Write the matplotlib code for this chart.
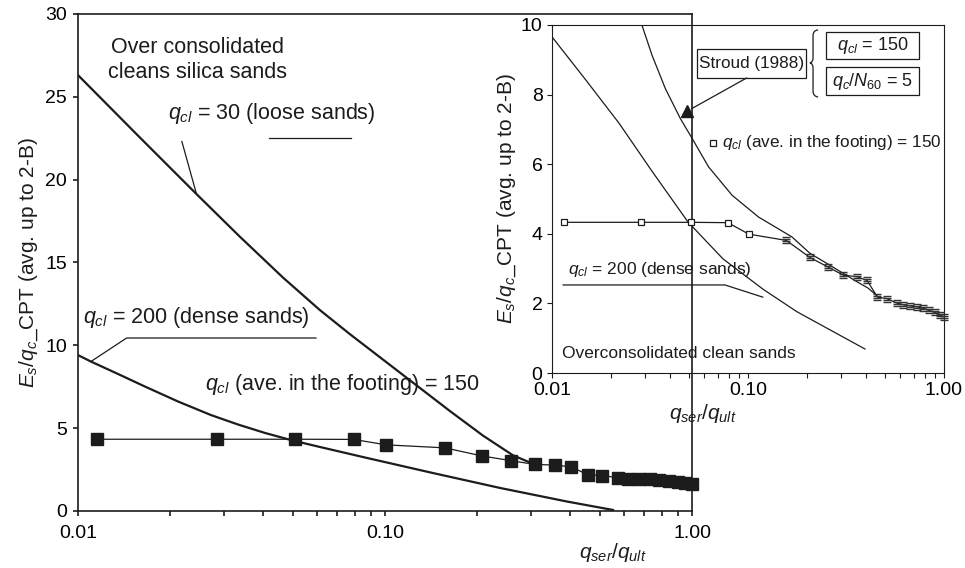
import matplotlib
matplotlib.use("Agg")
import matplotlib.pyplot as plt
from matplotlib.ticker import LogLocator, NullFormatter, FixedLocator
from matplotlib.path import Path
from matplotlib.patches import PathPatch, Rectangle

plt.rcParams['font.family'] = ['Liberation Sans', 'DejaVu Sans']
plt.rcParams['mathtext.fontset'] = 'custom'
plt.rcParams['mathtext.rm'] = 'Liberation Sans'
plt.rcParams['mathtext.it'] = 'Liberation Sans:italic'
plt.rcParams['mathtext.bf'] = 'Liberation Sans:bold'
plt.rcParams['lines.solid_joinstyle'] = 'round'

INK = '#1c1c1c'

# footing test, q_cl (ave. in the footing) = 150
q_ratio = [0.0115, 0.0283, 0.051, 0.079, 0.101, 0.157, 0.207, 0.257, 0.307, 0.358, 0.405,
           0.458, 0.51, 0.575, 0.62, 0.67, 0.73, 0.78, 0.84, 0.90, 0.95, 1.0]
es_qc = [4.33, 4.33, 4.33, 4.32, 3.99, 3.81, 3.32, 3.04, 2.81, 2.77, 2.66,
         2.18, 2.14, 2.01, 1.96, 1.93, 1.90, 1.86, 1.80, 1.74, 1.66, 1.62]

# over consolidated clean silica sands, q_cl = 30 (loose)
loose_x = [0.01, 0.01568, 0.02423, 0.0337, 0.04653, 0.06143, 0.07691, 0.1119,
           0.1628, 0.2085, 0.2611, 0.3034]
loose_y = [26.31, 22.66, 19.16, 16.55, 14.09, 12.12, 10.67, 8.35,
           6.03, 4.55, 3.36, 2.85]

# q_cl = 200 (dense)
dense_x = [0.01, 0.01102, 0.0135, 0.01653, 0.02117, 0.02711, 0.0332, 0.04065,
           0.04941, 0.06049, 0.08737, 0.1433, 0.2369, 0.3915, 0.553]
dense_y = [9.41, 9.02, 8.27, 7.51, 6.61, 5.79, 5.22, 4.71,
           4.28, 3.89, 3.20, 2.29, 1.39, 0.57, 0.06]

# inset: overconsolidated clean sands, q_cl = 200
oc_x = [0.01, 0.01474, 0.02197, 0.03237, 0.04942, 0.07455, 0.1192, 0.1778, 0.2621, 0.3953]
oc_y = [9.66, 8.45, 7.18, 5.80, 4.34, 3.28, 2.41, 1.76, 1.24, 0.69]

# inset: Stroud (1988), q_cl = 150, q_c/N60 = 5
stroud_x = [0.0288, 0.0324, 0.0379, 0.0452, 0.0514, 0.0630, 0.0829, 0.1133, 0.1677,
            0.207, 0.256, 0.309, 0.358, 0.410, 0.455]
stroud_y = [9.99, 9.13, 8.17, 7.31, 6.78, 5.92, 5.11, 4.48, 3.91,
            3.44, 3.13, 2.85, 2.63, 2.44, 2.22]
stroud_pt_x = [0.0488]
stroud_pt_y = [7.52]

x_ticks = [0.01, 0.1, 1.0]
x_ticklabels = ['0.01', '0.10', '1.00']

fig = plt.figure(figsize=(9.65, 5.68), dpi=100)
ax = fig.add_axes([0.0808, 0.1004, 0.6363, 0.875])
axin = fig.add_axes([0.572, 0.3433, 0.4062, 0.6127], facecolor='none')


def style_axes(a, lw, xpad, ypad):
    a.set_xscale('log')
    a.set_xlim(0.01, 1.0)
    a.xaxis.set_major_locator(FixedLocator(x_ticks))
    a.set_xticklabels(x_ticklabels)
    a.xaxis.set_minor_locator(LogLocator(base=10, subs=range(2, 10)))
    a.xaxis.set_minor_formatter(NullFormatter())
    for s in a.spines.values():
        s.set_linewidth(lw)
        s.set_color(INK)
    a.tick_params(axis='x', which='both', direction='out', length=3.8, width=lw,
                  color=INK, labelsize=14, pad=xpad, top=False)
    a.tick_params(axis='y', which='both', direction='out', length=3.8, width=lw,
                  color=INK, labelsize=14, pad=ypad, right=False)


# ---- main plot ----
style_axes(ax, 1.2, 6, 4)
ax.set_ylim(0, 30)
ax.set_yticks(range(0, 31, 5))

ax.plot(loose_x, loose_y, color=INK, lw=1.6)
ax.plot(dense_x, dense_y, color=INK, lw=1.6)
ax.plot(q_ratio, es_qc, color=INK, lw=0.9, marker='s', ms=8.5,
        mfc=INK, mec=INK, clip_on=False, zorder=4)

ax.text(0.0246, 27.2, 'Over consolidated\ncleans silica sands', fontsize=15.5,
        ha='center', va='center', linespacing=1.25, color=INK)
ax.text(0.0197, 24.0, r'$q_{cl}$ = 30 (loose sands)', fontsize=15.5, va='center', color=INK)
ax.plot([0.0218, 0.0243], [22.3, 19.16], color=INK, lw=0.9)
ax.plot([0.0419, 0.0775], [22.5, 22.5], color=INK, lw=0.9)
ax.text(0.0104, 11.7, r'$q_{cl}$ = 200 (dense sands)', fontsize=15.5, va='center', color=INK)
ax.plot([0.01102, 0.0144, 0.0596], [9.02, 10.44, 10.44], color=INK, lw=0.9)
ax.text(0.0259, 7.66, r'$q_{cl}$ (ave. in the footing) = 150', fontsize=15.5,
        va='center', color=INK)

ax.set_ylabel(r'$E_s/q_c$_CPT (avg. up to 2-B)', fontsize=15, color=INK, labelpad=4)
ax.text(0.553, -0.083, r'$q_{ser}/q_{ult}$', transform=ax.get_xaxis_transform(),
        fontsize=15, ha='center', va='center', color=INK)

# ---- inset ----
style_axes(axin, 0.8, 2.5, 3)
axin.set_ylim(0, 10)
axin.set_yticks(range(0, 11, 2))

axin.plot(oc_x, oc_y, color=INK, lw=0.9)
axin.plot(stroud_x, stroud_y, color=INK, lw=0.9)
axin.plot(q_ratio, es_qc, color=INK, lw=0.9, zorder=3)
axin.plot(q_ratio[:5], es_qc[:5], ls='none', marker='s', ms=5, mfc='white',
          mec=INK, mew=0.9, zorder=4)

# stacked-line marker for the dense end of the record
bars = Path([(-1, -0.75), (1, -0.75), (-1, -0.25), (1, -0.25),
             (-1, 0.25), (1, 0.25), (-1, 0.75), (1, 0.75)],
            [Path.MOVETO, Path.LINETO] * 4)
axin.plot(q_ratio[5:], es_qc[5:], ls='none', marker=bars, ms=6, mfc='none',
          mec='#333333', mew=1.0, zorder=4, clip_on=False)
axin.plot(stroud_pt_x, stroud_pt_y, ls='none', marker='^', ms=9, color=INK, zorder=5)

axin.text(0.0121, 2.96, r'$q_{cl}$ = 200 (dense sands)', fontsize=12.5, va='center', color=INK)
axin.plot([0.0114, 0.0763, 0.119], [2.53, 2.53, 2.18], color=INK, lw=0.9)
axin.text(0.0112, 0.57, 'Overconsolidated clean sands', fontsize=12.5, va='center', color=INK)
axin.plot([0.0663], [6.61], ls='none', marker='s', ms=5, mfc='white', mec=INK, mew=0.9)
axin.text(0.0736, 6.61, r'$q_{cl}$ (ave. in the footing) = 150', fontsize=12.3,
          va='center', color=INK)

tA = axin.transAxes
axin.add_patch(Rectangle((0.370, 0.848), 0.278, 0.083, transform=tA, fill=False,
                         ec=INK, lw=0.9))
axin.text(0.509, 0.889, 'Stroud (1988)', transform=tA, fontsize=12.3,
          ha='center', va='center', color=INK)
axin.annotate('', xy=(stroud_pt_x[0], stroud_pt_y[0]), xytext=(0.497, 0.848),
              textcoords='axes fraction',
              arrowprops=dict(arrowstyle='-', color=INK, lw=0.9, shrinkA=0, shrinkB=4))

# brace grouping the two Stroud parameters
brace = Path([(0.679, 0.986), (0.666, 0.984), (0.666, 0.97), (0.666, 0.955),
              (0.666, 0.905), (0.666, 0.893), (0.658, 0.891),
              (0.666, 0.889), (0.666, 0.877), (0.666, 0.825),
              (0.666, 0.81), (0.666, 0.795), (0.679, 0.793)],
             [Path.MOVETO, Path.CURVE3, Path.CURVE3, Path.LINETO,
              Path.LINETO, Path.CURVE3, Path.CURVE3,
              Path.CURVE3, Path.CURVE3, Path.LINETO,
              Path.LINETO, Path.CURVE3, Path.CURVE3])
axin.add_patch(PathPatch(brace, transform=tA, fill=False, ec=INK, lw=0.9, clip_on=False))

axin.add_patch(Rectangle((0.699, 0.902), 0.237, 0.078, transform=tA, fill=False,
                         ec=INK, lw=0.9))
axin.text(0.8175, 0.9425, r'$q_{cl}$ = 150', transform=tA, fontsize=13,
          ha='center', va='center', color=INK)
axin.add_patch(Rectangle((0.699, 0.799), 0.237, 0.080, transform=tA, fill=False,
                         ec=INK, lw=0.9))
axin.text(0.8175, 0.839, r'$q_c/N_{60}$ = 5', transform=tA, fontsize=13,
          ha='center', va='center', color=INK)

axin.set_ylabel(r'$E_s/q_c$_CPT (avg. up to 2-B)', fontsize=15, color=INK, labelpad=2)
axin.text(0.385, -0.115, r'$q_{ser}/q_{ult}$', transform=axin.transAxes,
          fontsize=15, ha='center', va='center', color=INK)

fig.savefig('out.png', dpi=100)
